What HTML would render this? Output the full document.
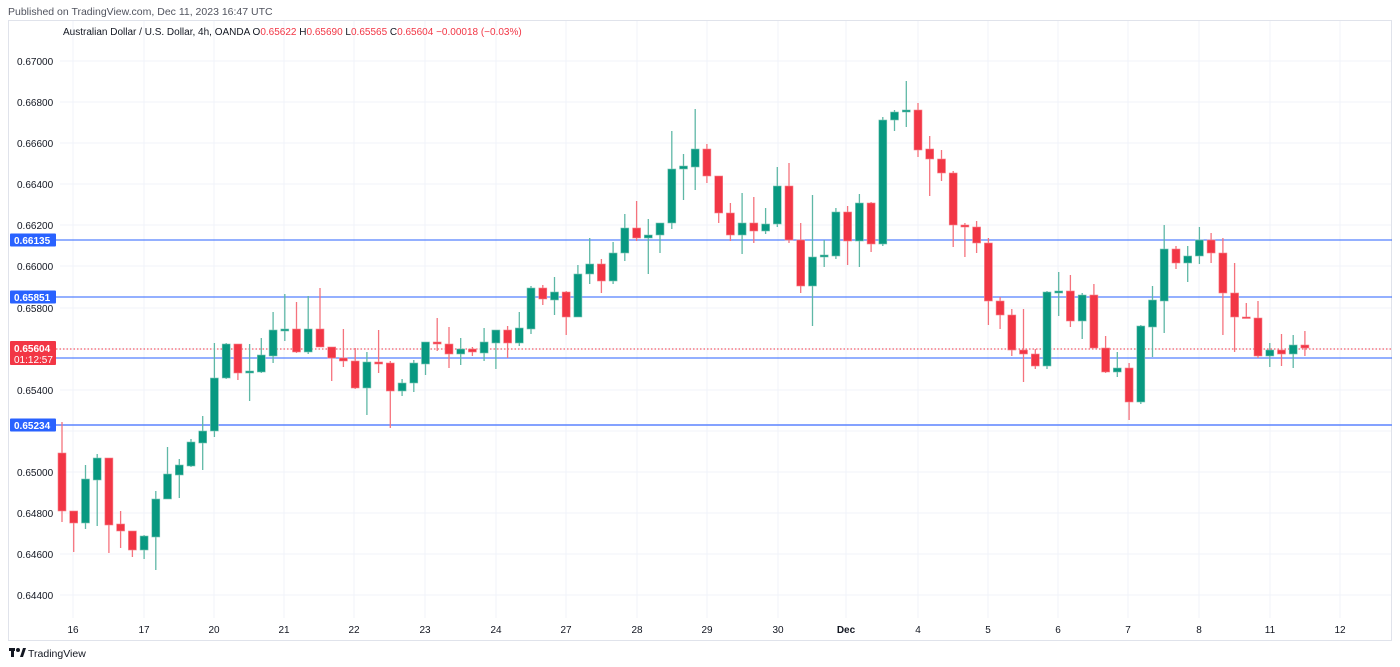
<!DOCTYPE html>
<html><head><meta charset="utf-8"><style>
body{margin:0;background:#fff;width:1400px;height:667px;overflow:hidden;font-family:"Liberation Sans",sans-serif}
svg{position:absolute;left:0;top:0}
.g line{stroke:#5fb8a6;stroke-width:1.3}.g rect{fill:#089981;stroke:#7cc4b5;stroke-width:.6}
.r line{stroke:#f5737d;stroke-width:1.3}.r rect{fill:#f23645;stroke:#f7838c;stroke-width:.6}
text{font-family:"Liberation Sans",sans-serif}
</style></head><body>
<svg width="1400" height="667" viewBox="0 0 1400 667">
<text x="8" y="15" font-size="10.5" fill="#50535e">Published on TradingView.com, Dec 11, 2023 16:47 UTC</text>
<rect x="8.5" y="20.5" width="1383" height="620" fill="none" stroke="#e0e3eb"/>
<g stroke="#f0f3fa" stroke-width="1">
<line x1="60" x2="1391" y1="61" y2="61"/><line x1="60" x2="1391" y1="102" y2="102"/><line x1="60" x2="1391" y1="143" y2="143"/><line x1="60" x2="1391" y1="184" y2="184"/><line x1="60" x2="1391" y1="225" y2="225"/><line x1="60" x2="1391" y1="266" y2="266"/><line x1="60" x2="1391" y1="308" y2="308"/><line x1="60" x2="1391" y1="349" y2="349"/><line x1="60" x2="1391" y1="390" y2="390"/><line x1="60" x2="1391" y1="431" y2="431"/><line x1="60" x2="1391" y1="472" y2="472"/><line x1="60" x2="1391" y1="513" y2="513"/><line x1="60" x2="1391" y1="554" y2="554"/><line x1="60" x2="1391" y1="595" y2="595"/>
<line x1="73" x2="73" y1="21" y2="618"/><line x1="144" x2="144" y1="21" y2="618"/><line x1="214" x2="214" y1="21" y2="618"/><line x1="284" x2="284" y1="21" y2="618"/><line x1="354" x2="354" y1="21" y2="618"/><line x1="425" x2="425" y1="21" y2="618"/><line x1="496" x2="496" y1="21" y2="618"/><line x1="566" x2="566" y1="21" y2="618"/><line x1="637" x2="637" y1="21" y2="618"/><line x1="707" x2="707" y1="21" y2="618"/><line x1="778" x2="778" y1="21" y2="618"/><line x1="846" x2="846" y1="21" y2="618"/><line x1="918" x2="918" y1="21" y2="618"/><line x1="988" x2="988" y1="21" y2="618"/><line x1="1058" x2="1058" y1="21" y2="618"/><line x1="1128" x2="1128" y1="21" y2="618"/><line x1="1199" x2="1199" y1="21" y2="618"/><line x1="1270" x2="1270" y1="21" y2="618"/><line x1="1340" x2="1340" y1="21" y2="618"/>
</g>
<text x="63" y="35" font-size="10" fill="#131722">Australian Dollar / U.S. Dollar, 4h, OANDA <tspan>O</tspan><tspan fill="#f23645">0.65622</tspan> <tspan>H</tspan><tspan fill="#f23645">0.65690</tspan> <tspan>L</tspan><tspan fill="#f23645">0.65565</tspan> <tspan>C</tspan><tspan fill="#f23645">0.65604  −0.00018 (−0.03%)</tspan></text>
<g font-size="10" fill="#131722">
<text x="17" y="65">0.67000</text><text x="17" y="106">0.66800</text><text x="17" y="147">0.66600</text><text x="17" y="188">0.66400</text><text x="17" y="229">0.66200</text><text x="17" y="270">0.66000</text><text x="17" y="312">0.65800</text><text x="17" y="394">0.65400</text><text x="17" y="476">0.65000</text><text x="17" y="517">0.64800</text><text x="17" y="558">0.64600</text><text x="17" y="599">0.64400</text>
</g>
<g stroke="#2962ff" stroke-width="1">
<line x1="56" x2="1392" y1="240" y2="240"/><line x1="56" x2="1392" y1="297" y2="297"/><line x1="56" x2="1392" y1="358" y2="358"/><line x1="56" x2="1392" y1="425" y2="425" stroke-width="1.5" stroke="#5b84ff"/>
</g>
<line x1="56" x2="1392" y1="349" y2="349" stroke="#f23645" stroke-dasharray="1.5 2" stroke-width="1"/>
<g id="c"></g>
<g class="r">
<line x1="62.0" x2="62.0" y1="422" y2="522"/><rect x="58.0" y="453" width="8" height="58"/>
<line x1="73.7" x2="73.7" y1="511" y2="552"/><rect x="69.7" y="511" width="8" height="12"/>
<line x1="108.9" x2="108.9" y1="458" y2="553"/><rect x="104.9" y="458" width="8" height="67"/>
<line x1="120.6" x2="120.6" y1="511" y2="548"/><rect x="116.6" y="524" width="8" height="7"/>
<line x1="132.4" x2="132.4" y1="531" y2="557"/><rect x="128.4" y="531" width="8" height="19"/>
<line x1="237.9" x2="237.9" y1="344" y2="380"/><rect x="233.9" y="344" width="8" height="29"/>
<line x1="296.5" x2="296.5" y1="302" y2="353"/><rect x="292.5" y="329" width="8" height="23"/>
<line x1="320.0" x2="320.0" y1="288" y2="347"/><rect x="316.0" y="329" width="8" height="18"/>
<line x1="331.7" x2="331.7" y1="347" y2="381"/><rect x="327.7" y="347" width="8" height="11"/>
<line x1="343.4" x2="343.4" y1="329" y2="367"/><rect x="339.4" y="358" width="8" height="3"/>
<line x1="355.2" x2="355.2" y1="348" y2="389"/><rect x="351.2" y="361" width="8" height="27"/>
<line x1="378.6" x2="378.6" y1="330" y2="373"/><rect x="374.6" y="362" width="8" height="2"/>
<line x1="390.3" x2="390.3" y1="361" y2="428"/><rect x="386.3" y="363" width="8" height="28"/>
<line x1="437.2" x2="437.2" y1="318" y2="351"/><rect x="433.2" y="342" width="8" height="2"/>
<line x1="449.0" x2="449.0" y1="327" y2="368"/><rect x="445.0" y="344" width="8" height="10"/>
<line x1="472.4" x2="472.4" y1="347" y2="356"/><rect x="468.4" y="349" width="8" height="3"/>
<line x1="507.6" x2="507.6" y1="326" y2="358"/><rect x="503.6" y="330" width="8" height="13"/>
<line x1="542.8" x2="542.8" y1="285" y2="305"/><rect x="538.8" y="288" width="8" height="11"/>
<line x1="566.2" x2="566.2" y1="291" y2="335"/><rect x="562.2" y="292" width="8" height="25"/>
<line x1="601.4" x2="601.4" y1="259" y2="293"/><rect x="597.4" y="264" width="8" height="17"/>
<line x1="636.6" x2="636.6" y1="201" y2="241"/><rect x="632.6" y="228" width="8" height="10"/>
<line x1="706.9" x2="706.9" y1="144" y2="183"/><rect x="702.9" y="149" width="8" height="27"/>
<line x1="718.7" x2="718.7" y1="176" y2="223"/><rect x="714.7" y="176" width="8" height="37"/>
<line x1="730.4" x2="730.4" y1="203" y2="241"/><rect x="726.4" y="213" width="8" height="22"/>
<line x1="753.8" x2="753.8" y1="197" y2="243"/><rect x="749.8" y="223" width="8" height="8"/>
<line x1="789.0" x2="789.0" y1="163" y2="243"/><rect x="785.0" y="186" width="8" height="54"/>
<line x1="800.7" x2="800.7" y1="223" y2="293"/><rect x="796.7" y="240" width="8" height="46"/>
<line x1="847.6" x2="847.6" y1="206" y2="265"/><rect x="843.6" y="212" width="8" height="29"/>
<line x1="871.1" x2="871.1" y1="202" y2="252"/><rect x="867.1" y="203" width="8" height="41"/>
<line x1="918.0" x2="918.0" y1="103" y2="157"/><rect x="914.0" y="110" width="8" height="40"/>
<line x1="929.7" x2="929.7" y1="136" y2="196"/><rect x="925.7" y="149" width="8" height="10"/>
<line x1="941.5" x2="941.5" y1="150" y2="181"/><rect x="937.5" y="159" width="8" height="14"/>
<line x1="953.2" x2="953.2" y1="171" y2="247"/><rect x="949.2" y="173" width="8" height="52"/>
<line x1="964.9" x2="964.9" y1="223" y2="257"/><rect x="960.9" y="225" width="8" height="2"/>
<line x1="976.6" x2="976.6" y1="221" y2="253"/><rect x="972.6" y="227" width="8" height="16"/>
<line x1="988.4" x2="988.4" y1="238" y2="325"/><rect x="984.4" y="243" width="8" height="58"/>
<line x1="1000.1" x2="1000.1" y1="297" y2="329"/><rect x="996.1" y="301" width="8" height="14"/>
<line x1="1011.8" x2="1011.8" y1="309" y2="356"/><rect x="1007.8" y="315" width="8" height="35"/>
<line x1="1023.5" x2="1023.5" y1="309" y2="382"/><rect x="1019.5" y="350" width="8" height="4"/>
<line x1="1035.3" x2="1035.3" y1="349" y2="369"/><rect x="1031.3" y="354" width="8" height="12"/>
<line x1="1070.4" x2="1070.4" y1="275" y2="327"/><rect x="1066.4" y="291" width="8" height="30"/>
<line x1="1093.9" x2="1093.9" y1="284" y2="348"/><rect x="1089.9" y="295" width="8" height="53"/>
<line x1="1105.6" x2="1105.6" y1="336" y2="373"/><rect x="1101.6" y="348" width="8" height="24"/>
<line x1="1129.1" x2="1129.1" y1="363" y2="420"/><rect x="1125.1" y="368" width="8" height="34"/>
<line x1="1176.0" x2="1176.0" y1="246" y2="269"/><rect x="1172.0" y="249" width="8" height="14"/>
<line x1="1211.1" x2="1211.1" y1="233" y2="263"/><rect x="1207.1" y="240" width="8" height="13"/>
<line x1="1222.9" x2="1222.9" y1="238" y2="335"/><rect x="1218.9" y="253" width="8" height="40"/>
<line x1="1234.6" x2="1234.6" y1="263" y2="352"/><rect x="1230.6" y="293" width="8" height="24"/>
<line x1="1246.3" x2="1246.3" y1="303" y2="318"/><rect x="1242.3" y="317" width="8" height="1.5"/>
<line x1="1258.0" x2="1258.0" y1="301" y2="358"/><rect x="1254.0" y="318" width="8" height="38"/>
<line x1="1281.5" x2="1281.5" y1="334" y2="366"/><rect x="1277.5" y="350" width="8" height="4"/>
<line x1="1304.9" x2="1304.9" y1="331" y2="356"/><rect x="1300.9" y="345" width="8" height="3"/>
</g>
<g class="g">
<line x1="85.5" x2="85.5" y1="465" y2="529"/><rect x="81.5" y="479" width="8" height="44"/>
<line x1="97.2" x2="97.2" y1="454" y2="526"/><rect x="93.2" y="458" width="8" height="22"/>
<line x1="144.1" x2="144.1" y1="535" y2="559"/><rect x="140.1" y="536" width="8" height="14"/>
<line x1="155.8" x2="155.8" y1="491" y2="570"/><rect x="151.8" y="499" width="8" height="38"/>
<line x1="167.5" x2="167.5" y1="447" y2="499"/><rect x="163.5" y="474" width="8" height="25"/>
<line x1="179.3" x2="179.3" y1="459" y2="498"/><rect x="175.3" y="465" width="8" height="10"/>
<line x1="191.0" x2="191.0" y1="439" y2="467"/><rect x="187.0" y="442" width="8" height="24"/>
<line x1="202.7" x2="202.7" y1="416" y2="470"/><rect x="198.7" y="431" width="8" height="12"/>
<line x1="214.4" x2="214.4" y1="343" y2="437"/><rect x="210.4" y="378" width="8" height="53"/>
<line x1="226.2" x2="226.2" y1="343" y2="379"/><rect x="222.2" y="344" width="8" height="34"/>
<line x1="249.6" x2="249.6" y1="344" y2="401"/><rect x="245.6" y="371" width="8" height="2"/>
<line x1="261.3" x2="261.3" y1="338" y2="373"/><rect x="257.3" y="355" width="8" height="17"/>
<line x1="273.1" x2="273.1" y1="312" y2="363"/><rect x="269.1" y="330" width="8" height="26"/>
<line x1="284.8" x2="284.8" y1="294" y2="341"/><rect x="280.8" y="329" width="8" height="2"/>
<line x1="308.2" x2="308.2" y1="296" y2="354"/><rect x="304.2" y="329" width="8" height="23"/>
<line x1="366.9" x2="366.9" y1="352" y2="415"/><rect x="362.9" y="362" width="8" height="26"/>
<line x1="402.1" x2="402.1" y1="379" y2="396"/><rect x="398.1" y="383" width="8" height="8"/>
<line x1="413.8" x2="413.8" y1="360" y2="392"/><rect x="409.8" y="363" width="8" height="20"/>
<line x1="425.5" x2="425.5" y1="342" y2="375"/><rect x="421.5" y="342" width="8" height="22"/>
<line x1="460.7" x2="460.7" y1="338" y2="365"/><rect x="456.7" y="349" width="8" height="5"/>
<line x1="484.1" x2="484.1" y1="328" y2="361"/><rect x="480.1" y="342" width="8" height="11"/>
<line x1="495.9" x2="495.9" y1="330" y2="369"/><rect x="491.9" y="330" width="8" height="13"/>
<line x1="519.3" x2="519.3" y1="312" y2="346"/><rect x="515.3" y="328" width="8" height="15"/>
<line x1="531.0" x2="531.0" y1="286" y2="334"/><rect x="527.0" y="288" width="8" height="41"/>
<line x1="554.5" x2="554.5" y1="277" y2="315"/><rect x="550.5" y="292" width="8" height="8"/>
<line x1="577.9" x2="577.9" y1="265" y2="317"/><rect x="573.9" y="274" width="8" height="43"/>
<line x1="589.7" x2="589.7" y1="238" y2="284"/><rect x="585.7" y="264" width="8" height="10"/>
<line x1="613.1" x2="613.1" y1="242" y2="284"/><rect x="609.1" y="253" width="8" height="28"/>
<line x1="624.8" x2="624.8" y1="214" y2="261"/><rect x="620.8" y="228" width="8" height="25"/>
<line x1="648.3" x2="648.3" y1="219" y2="274"/><rect x="644.3" y="235" width="8" height="3"/>
<line x1="660.0" x2="660.0" y1="223" y2="253"/><rect x="656.0" y="223" width="8" height="12"/>
<line x1="671.8" x2="671.8" y1="131" y2="229"/><rect x="667.8" y="169" width="8" height="54"/>
<line x1="683.5" x2="683.5" y1="154" y2="200"/><rect x="679.5" y="166" width="8" height="3"/>
<line x1="695.2" x2="695.2" y1="109" y2="190"/><rect x="691.2" y="149" width="8" height="18"/>
<line x1="742.1" x2="742.1" y1="193" y2="254"/><rect x="738.1" y="223" width="8" height="12"/>
<line x1="765.6" x2="765.6" y1="208" y2="234"/><rect x="761.6" y="224" width="8" height="7"/>
<line x1="777.3" x2="777.3" y1="167" y2="227"/><rect x="773.3" y="186" width="8" height="38"/>
<line x1="812.5" x2="812.5" y1="195" y2="326"/><rect x="808.5" y="257" width="8" height="29"/>
<line x1="824.2" x2="824.2" y1="240" y2="267"/><rect x="820.2" y="255" width="8" height="2"/>
<line x1="835.9" x2="835.9" y1="208" y2="259"/><rect x="831.9" y="212" width="8" height="44"/>
<line x1="859.4" x2="859.4" y1="194" y2="267"/><rect x="855.4" y="203" width="8" height="38"/>
<line x1="882.8" x2="882.8" y1="117" y2="246"/><rect x="878.8" y="120" width="8" height="124"/>
<line x1="894.5" x2="894.5" y1="110" y2="131"/><rect x="890.5" y="112" width="8" height="8"/>
<line x1="906.3" x2="906.3" y1="81" y2="127"/><rect x="902.3" y="110" width="8" height="2"/>
<line x1="1047.0" x2="1047.0" y1="291" y2="369"/><rect x="1043.0" y="292" width="8" height="74"/>
<line x1="1058.7" x2="1058.7" y1="272" y2="316"/><rect x="1054.7" y="291" width="8" height="2"/>
<line x1="1082.2" x2="1082.2" y1="293" y2="339"/><rect x="1078.2" y="295" width="8" height="26"/>
<line x1="1117.3" x2="1117.3" y1="352" y2="377"/><rect x="1113.3" y="368" width="8" height="4"/>
<line x1="1140.8" x2="1140.8" y1="325" y2="404"/><rect x="1136.8" y="326" width="8" height="76"/>
<line x1="1152.5" x2="1152.5" y1="286" y2="357"/><rect x="1148.5" y="300" width="8" height="27"/>
<line x1="1164.2" x2="1164.2" y1="225" y2="333"/><rect x="1160.2" y="249" width="8" height="52"/>
<line x1="1187.7" x2="1187.7" y1="246" y2="282"/><rect x="1183.7" y="256" width="8" height="7"/>
<line x1="1199.4" x2="1199.4" y1="227" y2="264"/><rect x="1195.4" y="240" width="8" height="16"/>
<line x1="1269.8" x2="1269.8" y1="343" y2="367"/><rect x="1265.8" y="350" width="8" height="6"/>
<line x1="1293.2" x2="1293.2" y1="335" y2="368"/><rect x="1289.2" y="345" width="8" height="9"/>
</g>
<g font-size="10" font-weight="bold" fill="#fff">
<rect x="10" y="233.5" width="46" height="13" rx="1" fill="#2962ff"/><text x="14" y="244">0.66135</text>
<rect x="10" y="290.5" width="46" height="13" rx="1" fill="#2962ff"/><text x="14" y="301">0.65851</text>
<rect x="10" y="351.5" width="46" height="13" rx="1" fill="#2962ff"/><text x="14" y="362">0.65557</text>
<rect x="10" y="418.5" width="46" height="13" rx="1" fill="#2962ff"/><text x="14" y="429">0.65234</text>
<rect x="10" y="341" width="46" height="24" rx="1" fill="#f23645"/><text x="14" y="352">0.65604</text><text x="14" y="363" font-weight="normal">01:12:57</text>
</g>
<g font-size="10" fill="#131722" text-anchor="middle">
<text x="73" y="633">16</text><text x="144" y="633">17</text><text x="214" y="633">20</text><text x="284" y="633">21</text><text x="354" y="633">22</text><text x="425" y="633">23</text><text x="496" y="633">24</text><text x="566" y="633">27</text><text x="637" y="633">28</text><text x="707" y="633">29</text><text x="778" y="633">30</text><text x="846" y="633" font-weight="bold">Dec</text><text x="918" y="633">4</text><text x="988" y="633">5</text><text x="1058" y="633">6</text><text x="1128" y="633">7</text><text x="1199" y="633">8</text><text x="1270" y="633">11</text><text x="1340" y="633">12</text>
</g>
<g fill="#131722"><rect x="9" y="648" width="6" height="3"/><rect x="11" y="648" width="3" height="9"/><circle cx="18" cy="650" r="2"/><path d="M20 657 L23 648 L26 648 L23 657Z"/></g>
<text x="28" y="657" font-size="10.5" fill="#131722">TradingView</text>
</svg>
</body></html>
